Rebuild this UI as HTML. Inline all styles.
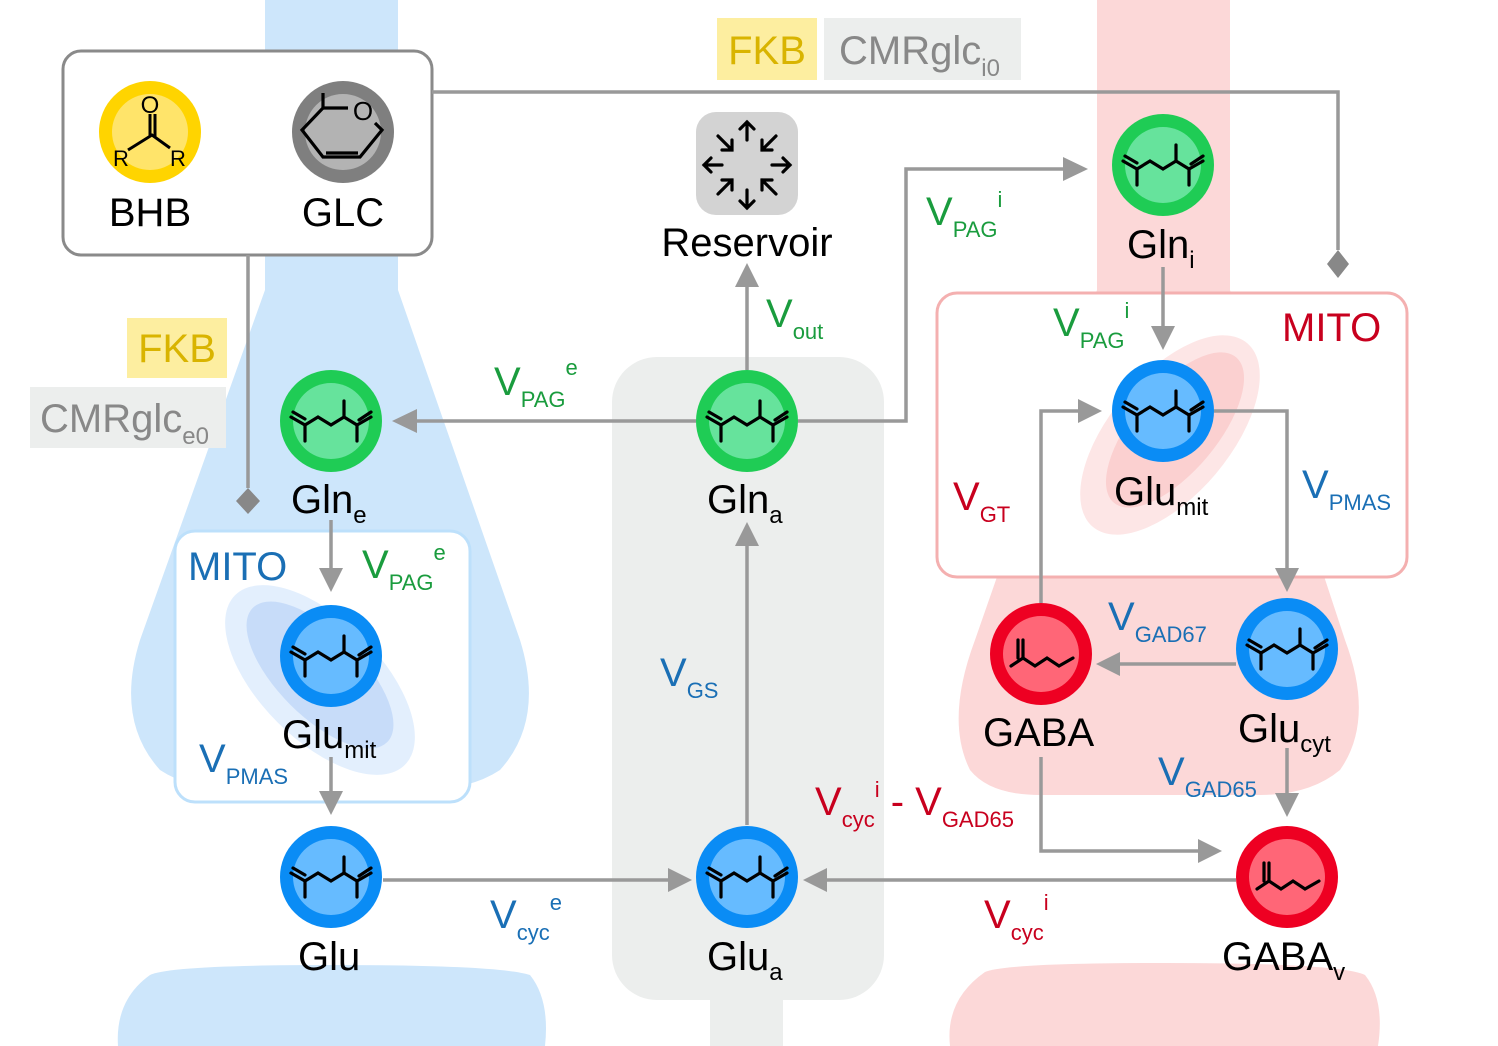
<!DOCTYPE html>
<html><head><meta charset="utf-8"><style>
html,body{margin:0;padding:0;background:#fff}
svg{display:block}
text{font-family:"Liberation Sans",sans-serif}
</style></head><body>
<svg width="1498" height="1046" viewBox="0 0 1498 1046" xmlns="http://www.w3.org/2000/svg">
<defs>
<g id="glu" stroke="#000" stroke-width="3.2" fill="none" stroke-linecap="round">
<polyline points="-40,-4 -26,4 -13,-4 0,4 13,-4 26,4 40,-4"/>
<line x1="-38" y1="-9" x2="-26" y2="-2"/>
<line x1="-26" y1="4" x2="-26" y2="20"/>
<line x1="13" y1="-4" x2="13" y2="-20"/>
<line x1="26" y1="4" x2="26" y2="20"/>
<line x1="28" y1="-1" x2="40" y2="-9"/>
</g>
<g id="gaba" stroke="#000" stroke-width="3.2" fill="none" stroke-linecap="round">
<polyline points="-30,12 -18,4 -6,12 6,4 18,12 32,4"/>
<line x1="-18" y1="4" x2="-18" y2="-14"/>
<line x1="-23" y1="4" x2="-23" y2="-14"/>
</g>
</defs>

<!-- blue neuron -->
<path d="M265,0H398V290 L520,640 Q545,720 500,770 Q470,790 420,790 H240 Q190,790 160,770 Q115,720 140,640 L265,290Z" fill="#cde6fb"/>
<path d="M150,975 Q170,965 330,965 Q500,965 530,975 Q550,1000 545,1046 H118 Q115,1000 150,975Z" fill="#cde6fb"/>
<!-- red neuron -->
<path d="M1097,0H1230V290 L1345,640 Q1375,720 1340,770 Q1310,795 1260,795 H1040 Q990,795 970,770 Q945,720 975,640 L1097,290Z" fill="#fcd8d8"/>
<path d="M985,972 Q1005,963 1165,963 Q1340,963 1365,975 Q1385,1000 1378,1046 H950 Q945,1000 985,972Z" fill="#fcd8d8"/>
<!-- astrocyte -->
<rect x="612" y="357" width="272" height="643" rx="45" fill="#eceeed"/>
<rect x="710" y="990" width="73" height="56" fill="#eceeed"/>

<!-- MITO boxes -->
<rect x="175" y="531" width="295" height="271" rx="20" fill="#fff" stroke="#bde0fb" stroke-width="3"/>
<ellipse cx="320" cy="680" rx="120" ry="60" transform="rotate(45 320 680)" fill="#e3effd"/>
<ellipse cx="320" cy="675" rx="95" ry="42" transform="rotate(45 320 675)" fill="#c7dcf9"/>
<rect x="937" y="293" width="470" height="284" rx="20" fill="#fff" stroke="#f4b0b0" stroke-width="3"/>
<ellipse cx="1170" cy="435" rx="120" ry="60" transform="rotate(-50 1170 435)" fill="#fde6e6"/>
<ellipse cx="1175" cy="430" rx="95" ry="42" transform="rotate(-50 1175 430)" fill="#fbd0d0"/>

<!-- top box -->
<rect x="63" y="51" width="369" height="204" rx="18" fill="#fff" stroke="#8a8a8a" stroke-width="3"/>
<circle cx="150" cy="132" r="51" fill="#ffd400"/><circle cx="150" cy="132" r="38" fill="#ffe46a"/>
<g stroke="#000" stroke-width="3" fill="none"><line x1="150" y1="114" x2="150" y2="137"/><line x1="155" y1="114" x2="155" y2="137"/><polyline points="128,150 152,135 170,148"/></g>
<text x="150" y="113" font-size="24" text-anchor="middle">O</text>
<text x="121" y="166" font-size="22" text-anchor="middle">R</text>
<text x="178" y="166" font-size="22" text-anchor="middle">R</text>
<circle cx="343" cy="132" r="51" fill="#7f7f7f"/><circle cx="343" cy="132" r="38" fill="#b3b3b3"/>
<g stroke="#000" stroke-width="3.2" fill="none"><polyline points="323,93 323,108 302,130 323,157 360,157 382,130 375,123"/><line x1="323" y1="108" x2="348" y2="108"/><line x1="326" y1="153" x2="358" y2="153"/></g>
<text x="363" y="120" font-size="26" text-anchor="middle">O</text>
<text x="150" y="226" font-size="40" text-anchor="middle">BHB</text>
<text x="343" y="226" font-size="40" text-anchor="middle">GLC</text>

<!-- labels boxes -->
<rect x="717" y="18" width="100" height="62" fill="#fdeea0"/>
<text x="767" y="64" font-size="40" fill="#d9b400" text-anchor="middle">FKB</text>
<rect x="824" y="18" width="197" height="62" fill="#eceeed"/>
<text x="839" y="64" font-size="40" fill="#888">CMRglc<tspan font-size="24" dy="12">i0</tspan></text>
<rect x="127" y="318" width="100" height="60" fill="#fdeea0"/>
<text x="177" y="362" font-size="40" fill="#d9b400" text-anchor="middle">FKB</text>
<rect x="30" y="387" width="196" height="61" fill="#eceeed"/>
<text x="40" y="432" font-size="40" fill="#888">CMRglc<tspan font-size="24" dy="12">e0</tspan></text>

<!-- reservoir -->
<rect x="696" y="112" width="102" height="103" rx="20" fill="#d3d3d3"/>
<g stroke="#000" stroke-width="3.2" fill="none" stroke-linecap="round">
<path d="M747,140V122M740,129L747,122L754,129"/>
<path d="M747,190V208M740,201L747,208L754,201"/>
<path d="M722,165H704M711,158L704,165L711,172"/>
<path d="M772,165H790M783,158L790,165L783,172"/>
<path d="M718,136L732,150M732,140V150H722"/>
<path d="M776,136L762,150M762,140V150H772"/>
<path d="M718,194L732,180M722,180H732V190"/>
<path d="M776,194L762,180M772,180H762V190"/>
</g>
<text x="747" y="256" font-size="40" text-anchor="middle">Reservoir</text>

<!-- connectors -->
<g stroke="#999" stroke-width="3.5" fill="none">
<polyline points="432,92 1338,92 1338,250"/>
<line x1="248" y1="255" x2="248" y2="488"/>
<line x1="747" y1="370" x2="747" y2="285"/>
<line x1="696" y1="421" x2="415" y2="421"/>
<polyline points="798,421 906,421 906,169 1065,169"/>
<line x1="1163" y1="267" x2="1163" y2="328"/>
<line x1="331" y1="520" x2="331" y2="570"/>
<line x1="331" y1="757" x2="331" y2="793"/>
<line x1="383" y1="880" x2="670" y2="880"/>
<line x1="747" y1="825" x2="747" y2="545"/>
<line x1="1236" y1="880" x2="825" y2="880"/>
<polyline points="1041,603 1041,411 1080,411"/>
<polyline points="1214,411 1287,411 1287,570"/>
<line x1="1236" y1="664" x2="1118" y2="664"/>
<line x1="1287" y1="748" x2="1287" y2="795"/>
<polyline points="1041,757 1041,851 1200,851"/>
</g>
<g fill="#999">
<path d="M1327,264L1338,250L1349,264L1338,278Z" fill="#888"/>
<path d="M236,501L248,488L260,501L248,514Z" fill="#888"/>
<path d="M735,287L747,263L759,287Z"/>
<path d="M417,409L392,421L417,433Z"/>
<path d="M1063,157L1088,169L1063,181Z"/>
<path d="M1151,326L1163,350L1175,326Z"/>
<path d="M319,568L331,592L343,568Z"/>
<path d="M319,791L331,815L343,791Z"/>
<path d="M668,868L692,880L668,892Z"/>
<path d="M735,546L747,522L759,546Z"/>
<path d="M827,868L803,880L827,892Z"/>
<path d="M1078,399L1102,411L1078,423Z"/>
<path d="M1275,568L1287,592L1299,568Z"/>
<path d="M1120,652L1096,664L1120,676Z"/>
<path d="M1275,793L1287,817L1299,793Z"/>
<path d="M1198,839L1222,851L1198,863Z"/>
</g>

<!-- nodes -->
<g>
<circle cx="331" cy="421" r="51" fill="#1fcc55"/><circle cx="331" cy="421" r="38" fill="#66e39c"/><use href="#glu" x="331" y="421"/>
<circle cx="747" cy="421" r="51" fill="#1fcc55"/><circle cx="747" cy="421" r="38" fill="#66e39c"/><use href="#glu" x="747" y="421"/>
<circle cx="1163" cy="165" r="51" fill="#1fcc55"/><circle cx="1163" cy="165" r="38" fill="#66e39c"/><use href="#glu" x="1163" y="165"/>
<circle cx="331" cy="656" r="51" fill="#0a8cf5"/><circle cx="331" cy="656" r="38" fill="#66bbff"/><use href="#glu" x="331" y="656"/>
<circle cx="331" cy="877" r="51" fill="#0a8cf5"/><circle cx="331" cy="877" r="38" fill="#66bbff"/><use href="#glu" x="331" y="877"/>
<circle cx="747" cy="877" r="51" fill="#0a8cf5"/><circle cx="747" cy="877" r="38" fill="#66bbff"/><use href="#glu" x="747" y="877"/>
<circle cx="1163" cy="411" r="51" fill="#0a8cf5"/><circle cx="1163" cy="411" r="38" fill="#66bbff"/><use href="#glu" x="1163" y="411"/>
<circle cx="1287" cy="649" r="51" fill="#0a8cf5"/><circle cx="1287" cy="649" r="38" fill="#66bbff"/><use href="#glu" x="1287" y="649"/>
<circle cx="1041" cy="654" r="51" fill="#ee0022"/><circle cx="1041" cy="654" r="38" fill="#ff6677"/><use href="#gaba" x="1041" y="654"/>
<circle cx="1287" cy="877" r="51" fill="#ee0022"/><circle cx="1287" cy="877" r="38" fill="#ff6677"/><use href="#gaba" x="1287" y="877"/>
</g>

<!-- node labels -->
<g font-size="40">
<text x="291" y="513">Gln<tspan font-size="24" dy="10">e</tspan></text>
<text x="707" y="513">Gln<tspan font-size="24" dy="10">a</tspan></text>
<text x="1127" y="258">Gln<tspan font-size="24" dy="10">i</tspan></text>
<text x="282" y="748">Glu<tspan font-size="24" dy="10">mit</tspan></text>
<text x="1114" y="505">Glu<tspan font-size="24" dy="10">mit</tspan></text>
<text x="298" y="970">Glu</text>
<text x="707" y="970">Glu<tspan font-size="24" dy="10">a</tspan></text>
<text x="1238" y="742">Glu<tspan font-size="24" dy="10">cyt</tspan></text>
<text x="983" y="746">GABA</text>
<text x="1222" y="970">GABA<tspan font-size="24" dy="10">v</tspan></text>
</g>
<text x="188" y="580" font-size="40" fill="#1a6fb5">MITO</text>
<text x="1282" y="341" font-size="40" fill="#c8001e">MITO</text>

<!-- rate labels -->
<g font-size="40">
<text x="494" y="395" fill="#1a9c3e">V<tspan font-size="22" dy="12">PAG</tspan><tspan font-size="22" dy="-32">e</tspan></text>
<text x="766" y="327" fill="#1a9c3e">V<tspan font-size="22" dy="12">out</tspan></text>
<text x="926" y="225" fill="#1a9c3e">V<tspan font-size="22" dy="12">PAG</tspan><tspan font-size="22" dy="-30">i</tspan></text>
<text x="1053" y="336" fill="#1a9c3e">V<tspan font-size="22" dy="12">PAG</tspan><tspan font-size="22" dy="-30">i</tspan></text>
<text x="362" y="578" fill="#1a9c3e">V<tspan font-size="22" dy="12">PAG</tspan><tspan font-size="22" dy="-30">e</tspan></text>
<text x="199" y="772" fill="#1a6fb5">V<tspan font-size="22" dy="12">PMAS</tspan></text>
<text x="1302" y="498" fill="#1a6fb5">V<tspan font-size="22" dy="12">PMAS</tspan></text>
<text x="660" y="686" fill="#1a6fb5">V<tspan font-size="22" dy="12">GS</tspan></text>
<text x="490" y="928" fill="#1a6fb5">V<tspan font-size="22" dy="12">cyc</tspan><tspan font-size="22" dy="-30">e</tspan></text>
<text x="1108" y="630" fill="#1a6fb5">V<tspan font-size="22" dy="12">GAD67</tspan></text>
<text x="1158" y="785" fill="#1a6fb5">V<tspan font-size="22" dy="12">GAD65</tspan></text>
<text x="953" y="510" fill="#c8001e">V<tspan font-size="22" dy="12">GT</tspan></text>
<text x="815" y="815" fill="#c8001e">V<tspan font-size="22" dy="12">cyc</tspan><tspan font-size="22" dy="-30">i</tspan><tspan dy="18"> - V</tspan><tspan font-size="22" dy="12">GAD65</tspan></text>
<text x="984" y="928" fill="#c8001e">V<tspan font-size="22" dy="12">cyc</tspan><tspan font-size="22" dy="-30">i</tspan></text>
</g>
</svg>
</body></html>
